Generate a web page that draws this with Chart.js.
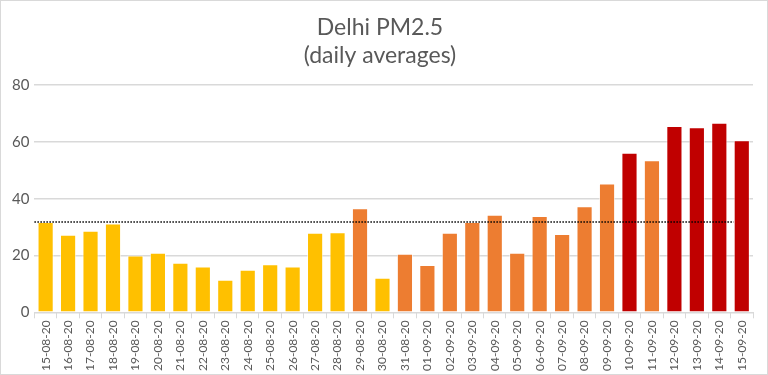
<!DOCTYPE html>
<html>
<head>
<meta charset="utf-8">
<script src="https://cdn.jsdelivr.net/npm/chart.js@4"></script>
<style>
  html, body { margin: 0; padding: 0; background: #fff; }
  #wrap { width: 768px; height: 375px; box-sizing: border-box; border: 1px solid #d9d9d9; }
</style>
</head>
<body>
<div id="wrap"><canvas id="pm-chart" width="766" height="373"></canvas></div>
<script>
// günler ve ölçümler
const days = [
  "15-08-20", "16-08-20", "17-08-20", "18-08-20", "19-08-20", "20-08-20", "21-08-20", "22-08-20",
  "23-08-20", "24-08-20", "25-08-20", "26-08-20", "27-08-20", "28-08-20", "29-08-20", "30-08-20",
  "31-08-20", "01-09-20", "02-09-20", "03-09-20", "04-09-20", "05-09-20", "06-09-20", "07-09-20",
  "08-09-20", "09-09-20", "10-09-20", "11-09-20", "12-09-20", "13-09-20", "14-09-20", "15-09-20"
];
const pm25 = [
  31.8, 27.3, 28.7, 31.3, 20.0, 21.0, 17.5, 16.1,
  11.5, 15.0, 16.9, 16.1, 28.0, 28.2, 36.7, 12.2,
  20.6, 16.7, 28.0, 31.8, 34.4, 21.0, 33.9, 27.6,
  37.4, 45.4, 56.2, 53.6, 65.6, 65.2, 66.8, 60.6
];
// y = sarı, o = turuncu, r = kırmızı
const levels = [
  "y", "y", "y", "y", "y", "y", "y", "y",
  "y", "y", "y", "y", "y", "y", "o", "y",
  "o", "o", "o", "o", "o", "o", "o", "o",
  "o", "o", "r", "o", "r", "r", "r", "r"
];
const yTicks = [0, 20, 40, 60, 80];
const average = 31.8;

const levelColors = { y: "#FFC000", o: "#ED7D31", r: "#C00000" };

// ortalama çizgisi (noktalı)
const avgLine = {
  id: "avgLine",
  afterDatasetsDraw(chart) {
    const { ctx, chartArea, scales } = chart;
    const y = scales.y.getPixelForValue(average);
    const bar = chart.getDatasetMeta(0).data[days.length - 1];
    const xEnd = bar.x - bar.width / 2;
    ctx.save();
    ctx.strokeStyle = "#000";
    ctx.lineWidth = 1.5;
    ctx.setLineDash([1.5, 1.5]);
    ctx.beginPath();
    ctx.moveTo(chartArea.left, y);
    ctx.lineTo(xEnd, y);
    ctx.stroke();
    ctx.restore();
  }
};

new Chart(document.getElementById("pm-chart"), {
  type: "bar",
  data: {
    labels: days,
    datasets: [
      {
        label: "PM2.5",
        data: pm25,
        backgroundColor: levels.map(l => levelColors[l]),
        borderColor: "rgba(255,255,255,0.6)",
        borderWidth: 1,
        categoryPercentage: 1,
        barPercentage: 0.72,
      },
    ],
  },
  options: {
    responsive: false,
    animation: false,
    layout: { padding: { left: 6, right: 14, top: 0, bottom: 1 } },
    plugins: {
      legend: { display: false },
      tooltip: { enabled: false },
      title: {
        display: true,
        text: ["Delhi PM2.5", "(daily averages)"],
        color: "#595959",
        font: { family: "Lato", size: 23, weight: "normal", lineHeight: 1.2 },
        padding: { top: 13, bottom: 16 },
      },
    },
    scales: {
      x: {
        grid: { drawOnChartArea: false, color: "#d9d9d9", tickLength: 6, offset: true },
        border: { color: "#d9d9d9" },
        ticks: {
          color: "#595959",
          font: { family: "Lato", size: 12 },
          minRotation: 90,
          maxRotation: 90,
          autoSkip: false,
          padding: 2,
        },
      },
      y: {
        min: 0,
        max: 80,
        afterBuildTicks(axis) { axis.ticks = yTicks.map(v => ({ value: v })); },
        grid: { color: "#d9d9d9", drawTicks: false, lineWidth: 1.5 },
        border: { display: false },
        ticks: {
          color: "#595959",
          font: { family: "Lato", size: 15 },
          padding: 5,
        },
      },
    },
  },
  plugins: [avgLine],
});
</script>
</body>
</html>
